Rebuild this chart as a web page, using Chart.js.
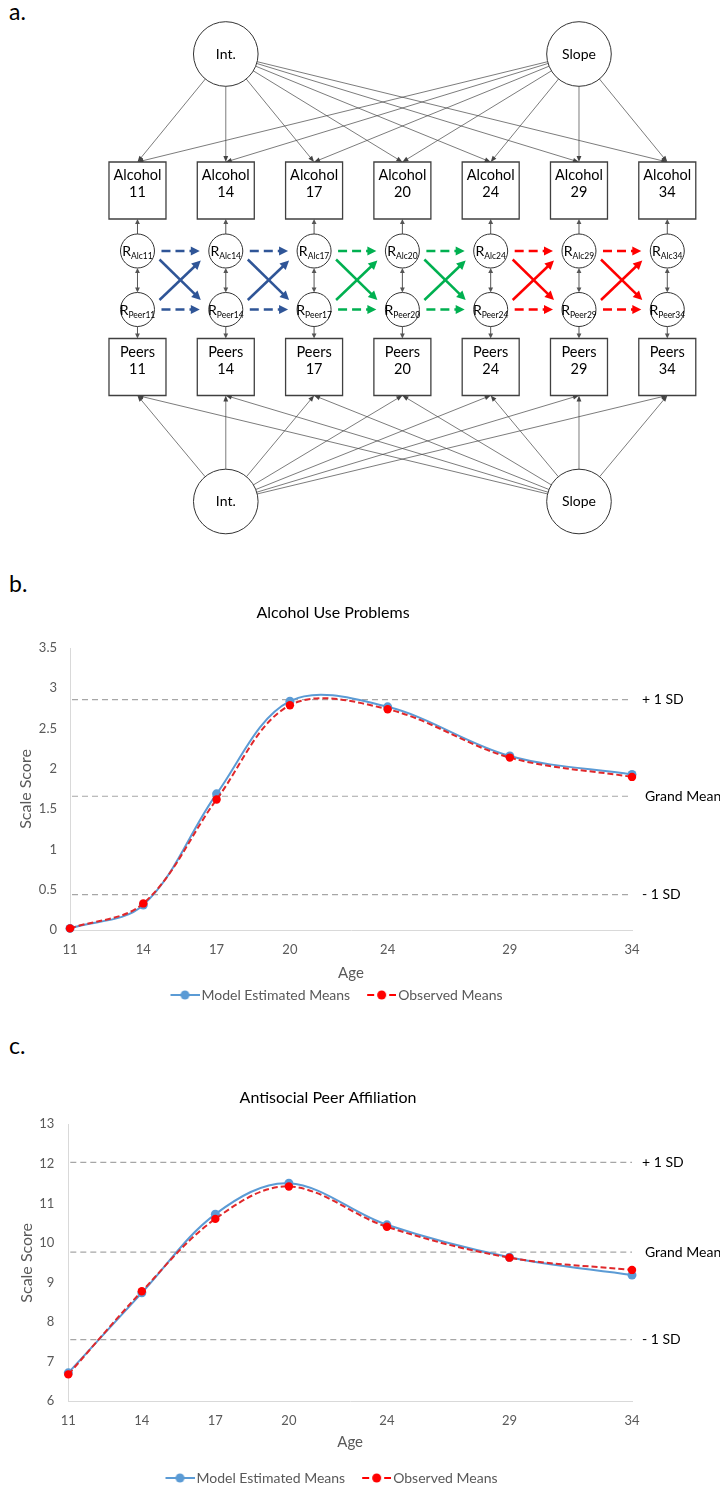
<!DOCTYPE html>
<html>
<head>
<meta charset="utf-8">
<script src="https://cdn.jsdelivr.net/npm/chart.js@4.4.1/dist/chart.umd.min.js"></script>
<style>
    html, body { margin: 0; padding: 0; background: #fff; width: 720px; height: 1487px; overflow: hidden; }
    .panel { position: absolute; left: 0; width: 720px; }
    .tag { position: absolute; left: 9px; font: 23px Lato, "Open Sans", sans-serif; line-height: 1; color: #000; }
</style>
</head>
<body>
<div class="tag" style="top:0px">a.</div>
<div class="panel" style="top:0px;height:545px"><canvas id="pathChart"></canvas></div>
<div class="tag" style="top:572px">b.</div>
<div class="panel" style="top:596px;height:416px"><canvas id="alcChart"></canvas></div>
<div class="tag" style="top:1034px">c.</div>
<div class="panel" style="top:1080px;height:415px"><canvas id="peerChart"></canvas></div>

<script>
// ---- data ----
const ages = [11, 14, 17, 20, 24, 29, 34];

const alcModel = [0.02, 0.31, 1.69, 2.84, 2.77, 2.16, 1.93];
const alcObserved = [0.02, 0.33, 1.62, 2.79, 2.74, 2.14, 1.90];
const alcRefs = [2.86, 1.66, 0.44];

const peerModel = [6.72, 8.74, 10.73, 11.51, 10.46, 9.64, 9.19];
const peerObserved = [6.68, 8.78, 10.61, 11.43, 10.41, 9.63, 9.32];
const peerRefs = [12.04, 9.77, 7.56];

const refLabels = ["+ 1 SD", "Grand Mean", "- 1 SD"];
const seriesLabels = ["Model Estimated Means", "Observed Means"];

// path diagram
const waves = ["11", "14", "17", "20", "24", "29", "34"];
const latentLabels = ["Int.", "Slope"];
const latentCols = [1, 5];
const pathColors = ["#2F5597", "#2F5597", "#00B050", "#00B050", "#FF0000", "#FF0000"];

const BLUE = "#5B9BD5";
const RED = "#FF0000";
const GREY = "#595959";
Chart.defaults.font.family = "Lato, 'Open Sans', sans-serif";
Chart.defaults.color = GREY;

// ---- a. path diagram ----
// y positions of the diagram rows (in canvas px, the y scale runs 0..545)
const row = { top: 54, alc: 190.5, rAlc: 251, rPeer: 309.5, peer: 367, bottom: 501.5 };
const BOX = 28.5, RES = 17, LAT = 32.3;

function drawArrow(ctx, x1, y1, x2, y2, o) {
    const ang = Math.atan2(y2 - y1, x2 - x1);
    const cos = Math.cos(ang), sin = Math.sin(ang);
    ctx.strokeStyle = o.color;
    ctx.fillStyle = o.color;
    ctx.lineWidth = o.width;
    ctx.setLineDash(o.dash || []);
    const sx = o.both ? x1 + cos * o.head : x1, sy = o.both ? y1 + sin * o.head : y1;
    ctx.beginPath();
    ctx.moveTo(sx, sy);
    ctx.lineTo(x2 - cos * o.head * 0.8, y2 - sin * o.head * 0.8);
    ctx.stroke();
    ctx.setLineDash([]);
    const head = (hx, hy, c, s) => {
        ctx.beginPath();
        ctx.moveTo(hx, hy);
        ctx.lineTo(hx - c * o.head - s * o.hw, hy - s * o.head + c * o.hw);
        ctx.lineTo(hx - c * o.head + s * o.hw, hy - s * o.head - c * o.hw);
        ctx.closePath();
        ctx.fill();
    };
    head(x2, y2, cos, sin);
    if (o.both) head(x1, y1, -cos, -sin);
}

const diagramPlugin = {
    id: "diagram",
    beforeDatasetsDraw(chart) {
        const { ctx, scales: { x, y } } = chart;
        const X = c => x.getPixelForValue(c);
        const Y = v => y.getPixelForValue(v);
        ctx.save();
        const thin = { color: "#444", width: 0.7, head: 6, hw: 2.4 };

        // latent factors -> indicators
        latentCols.forEach(lc => {
            [[row.top, row.alc - BOX], [row.bottom, row.peer + BOX]].forEach(([cy, ty]) => {
                waves.forEach((w, i) => {
                    const cx = X(lc), tx = X(i);
                    const dx = tx - cx, dy = Y(ty) - Y(cy);
                    const d = Math.hypot(dx, dy);
                    drawArrow(ctx, cx + dx / d * LAT, Y(cy) + dy / d * LAT, tx, Y(ty), thin);
                });
            });
        });

        // residual links
        const vert = { color: "#555", width: 1, head: 5, hw: 2.4 };
        waves.forEach((w, i) => {
            const cx = X(i);
            drawArrow(ctx, cx, Y(row.rAlc) - RES, cx, Y(row.alc) + BOX, vert);
            drawArrow(ctx, cx, Y(row.rPeer) + RES, cx, Y(row.peer) - BOX, vert);
            drawArrow(ctx, cx, Y(row.rAlc) + RES, cx, Y(row.rPeer) - RES, Object.assign({ both: true }, vert));
        });

        // autoregressive (dashed) and cross-lagged (solid) paths
        pathColors.forEach((col, i) => {
            const x1 = X(i), x2 = X(i + 1);
            const o = { color: col, width: 2.5, head: 9, hw: 4.5 };
            drawArrow(ctx, x1 + 24, Y(row.rAlc), x2 - 26, Y(row.rAlc), Object.assign({ dash: [9, 5] }, o));
            drawArrow(ctx, x1 + 24, Y(row.rPeer), x2 - 26, Y(row.rPeer), Object.assign({ dash: [9, 5] }, o));
            drawArrow(ctx, x1 + 22, Y(row.rAlc) + 8.5, x2 - 25, Y(row.rPeer) - 9.5, o);
            drawArrow(ctx, x1 + 22, Y(row.rPeer) - 9.5, x2 - 25, Y(row.rAlc) + 9.5, o);
        });
        ctx.restore();
    },
    afterDatasetsDraw(chart) {
        const { ctx, scales: { x, y } } = chart;
        const X = c => x.getPixelForValue(c);
        const Y = v => y.getPixelForValue(v);
        ctx.save();
        ctx.fillStyle = "#000";
        ctx.textAlign = "center";
        ctx.textBaseline = "middle";
        ctx.font = "14px Lato";
        latentCols.forEach((lc, k) => {
            ctx.fillText(latentLabels[k], X(lc), Y(row.top));
            ctx.fillText(latentLabels[k], X(lc), Y(row.bottom));
        });
        waves.forEach((w, i) => {
            ctx.font = "14.5px Lato";
            ctx.fillText("Alcohol", X(i), Y(row.alc) - BOX + 13.5);
            ctx.fillText(w, X(i), Y(row.alc) - BOX + 30.5);
            ctx.fillText("Peers", X(i), Y(row.peer) - BOX + 13.5);
            ctx.fillText(w, X(i), Y(row.peer) - BOX + 30.5);
        });
        ctx.textAlign = "left";
        ctx.textBaseline = "alphabetic";
        waves.forEach((w, i) => {
            [["Alc" + w, row.rAlc], ["Peer" + w, row.rPeer]].forEach(([sub, ry]) => {
                ctx.font = "14px Lato";
                const rw = ctx.measureText("R").width;
                ctx.font = "8.5px Lato";
                const sw = ctx.measureText(sub).width;
                const left = X(i) - (rw + sw) / 2;
                ctx.font = "14px Lato";
                ctx.fillText("R", left, Y(ry) + 5);
                ctx.font = "8.5px Lato";
                ctx.fillText(sub, left + rw, Y(ry) + 8);
            });
        });
        ctx.restore();
    }
};

const latentPoints = [];
[row.top, row.bottom].forEach(ry => latentCols.forEach(c => latentPoints.push({ x: c, y: ry })));
const boxPoints = [];
const resPoints = [];
waves.forEach((w, i) => {
    boxPoints.push({ x: i, y: row.alc }, { x: i, y: row.peer });
    resPoints.push({ x: i, y: row.rAlc }, { x: i, y: row.rPeer });
});

new Chart(document.getElementById("pathChart"), {
    type: "scatter",
    data: {
        datasets: [
            { data: latentPoints, pointStyle: "circle", pointRadius: LAT, backgroundColor: "#fff", borderColor: "#333", borderWidth: 1, clip: false },
            { data: boxPoints, pointStyle: "rect", pointRadius: BOX * Math.SQRT2, backgroundColor: "#fff", borderColor: "#404040", borderWidth: 1.3, clip: false },
            { data: resPoints, pointStyle: "circle", pointRadius: RES, backgroundColor: "#fff", borderColor: "#333", borderWidth: 1, clip: false }
        ]
    },
    options: {
        responsive: true,
        maintainAspectRatio: false,
        animation: false,
        events: [],
        layout: { padding: 0, autoPadding: false },
        scales: {
            x: { type: "linear", display: false, min: -1.557, max: 6.597 },
            y: { type: "linear", display: false, min: 0, max: 545, reverse: true }
        },
        plugins: { legend: { display: false }, tooltip: { enabled: false } }
    },
    plugins: [diagramPlugin]
});

// ---- b. and c. line charts ----
const refLinePlugin = {
    id: "refLines",
    beforeDatasetsDraw(chart, args, opts) {
        const { ctx, chartArea, scales: { y } } = chart;
        ctx.save();
        ctx.strokeStyle = "#A6A6A6";
        ctx.lineWidth = 1.2;
        ctx.setLineDash([6, 4]);
        opts.values.forEach(v => {
            const py = y.getPixelForValue(v);
            ctx.beginPath();
            ctx.moveTo(chartArea.left + 2, py);
            ctx.lineTo(chartArea.right, py);
            ctx.stroke();
        });
        ctx.setLineDash([]);
        ctx.fillStyle = "#000";
        ctx.font = "14px Lato";
        ctx.textBaseline = "middle";
        opts.values.forEach((v, i) => {
            ctx.fillText(refLabels[i], chartArea.right + (i === 1 ? 13 : 10), y.getPixelForValue(v));
        });
        ctx.restore();
    }
};

function legendSymbol(color, dashed) {
    const c = document.createElement("canvas");
    c.width = 41;
    c.height = 12;
    const g = c.getContext("2d");
    g.strokeStyle = color;
    g.fillStyle = color;
    g.lineWidth = 2;
    g.beginPath();
    if (dashed) {
        g.moveTo(12, 6); g.lineTo(19, 6);
        g.moveTo(34, 6); g.lineTo(41, 6);
    } else {
        g.moveTo(12, 6); g.lineTo(41, 6);
    }
    g.stroke();
    g.beginPath();
    g.arc(26.5, 6, 4.5, 0, Math.PI * 2);
    g.fill();
    return c;
}
const legendSymbols = [legendSymbol(BLUE, false), legendSymbol(RED, true)];

function lineChart(id, c) {
    return new Chart(document.getElementById(id), {
        type: "line",
        data: {
            datasets: [
                {
                    label: seriesLabels[0],
                    data: ages.map((a, i) => ({ x: a, y: c.model[i] })),
                    borderColor: BLUE, backgroundColor: BLUE, borderWidth: 2,
                    pointRadius: 4.5, pointBackgroundColor: BLUE, pointBorderColor: BLUE, pointBorderWidth: 0,
                    tension: 0.35, clip: false, order: 1
                },
                {
                    label: seriesLabels[1],
                    data: ages.map((a, i) => ({ x: a, y: c.observed[i] })),
                    borderColor: "#E0282B", backgroundColor: RED, borderWidth: 2, borderDash: [6, 3],
                    pointRadius: 4.2, pointBackgroundColor: RED, pointBorderColor: RED, pointBorderWidth: 0,
                    tension: 0.35, clip: false, order: 0
                }
            ]
        },
        options: {
            responsive: true,
            maintainAspectRatio: false,
            animation: false,
            events: [],
            layout: { padding: { left: c.padLeft, right: 88, top: 0, bottom: 0 } },
            scales: {
                x: {
                    type: "linear", min: 11, max: 34,
                    afterBuildTicks: s => { s.ticks = ages.map(v => ({ value: v })); },
                    afterFit: s => { s.height = c.xHeight; },
                    grid: { display: false, drawTicks: false },
                    border: { display: true, color: "#D9D9D9", width: 1 },
                    ticks: { autoSkip: false, maxRotation: 0, color: GREY, font: { size: 13 }, padding: 12 },
                    title: { display: true, text: "Age", color: GREY, font: { size: 15, lineHeight: 1 }, padding: { top: 0, bottom: c.agePad } }
                },
                y: {
                    min: c.yMin, max: c.yMax,
                    afterFit: s => { s.width = c.yWidth; },
                    grid: { display: false, drawTicks: false },
                    border: { display: true, color: "#D9D9D9", width: 1 },
                    ticks: { stepSize: c.yStep, color: GREY, font: { size: 13 }, padding: c.tickPad, callback: v => String(v) },
                    title: { display: true, text: "Scale Score", color: GREY, font: { size: 16, lineHeight: 1 }, padding: { top: c.yTitlePad, bottom: 0 } }
                }
            },
            plugins: {
                title: {
                    display: true, text: c.title, color: "#000",
                    font: { size: 16, weight: "normal" },
                    padding: { top: c.titleTop, bottom: c.titleBottom }
                },
                legend: {
                    position: "bottom",
                    labels: {
                        usePointStyle: true, pointStyleWidth: 31, padding: 10,
                        color: GREY, font: { size: 14 },
                        generateLabels: () => seriesLabels.map((t, i) => ({
                            text: t, pointStyle: legendSymbols[i], datasetIndex: i, hidden: false,
                            fontColor: GREY, lineWidth: 0, strokeStyle: "rgba(0,0,0,0)", fillStyle: "rgba(0,0,0,0)"
                        }))
                    }
                },
                tooltip: { enabled: false },
                refLines: { values: c.refs }
            }
        },
        plugins: [refLinePlugin]
    });
}

lineChart("alcChart", {
    title: "Alcohol Use Problems", model: alcModel, observed: alcObserved, refs: alcRefs,
    yMin: 0, yMax: 3.5, yStep: 0.5,
    padLeft: 34, yWidth: 36, yTitlePad: -16, tickPad: 13,
    xHeight: 48, agePad: -2.5, titleTop: 7.1, titleBottom: 25.7
});

lineChart("peerChart", {
    title: "Antisocial Peer Affiliation", model: peerModel, observed: peerObserved, refs: peerRefs,
    yMin: 6, yMax: 13, yStep: 1,
    padLeft: 24, yWidth: 44.3, yTitlePad: -5, tickPad: 14,
    xHeight: 59.7, agePad: 11.5, titleTop: 8.4, titleBottom: 16.7
});
</script>
</body>
</html>
